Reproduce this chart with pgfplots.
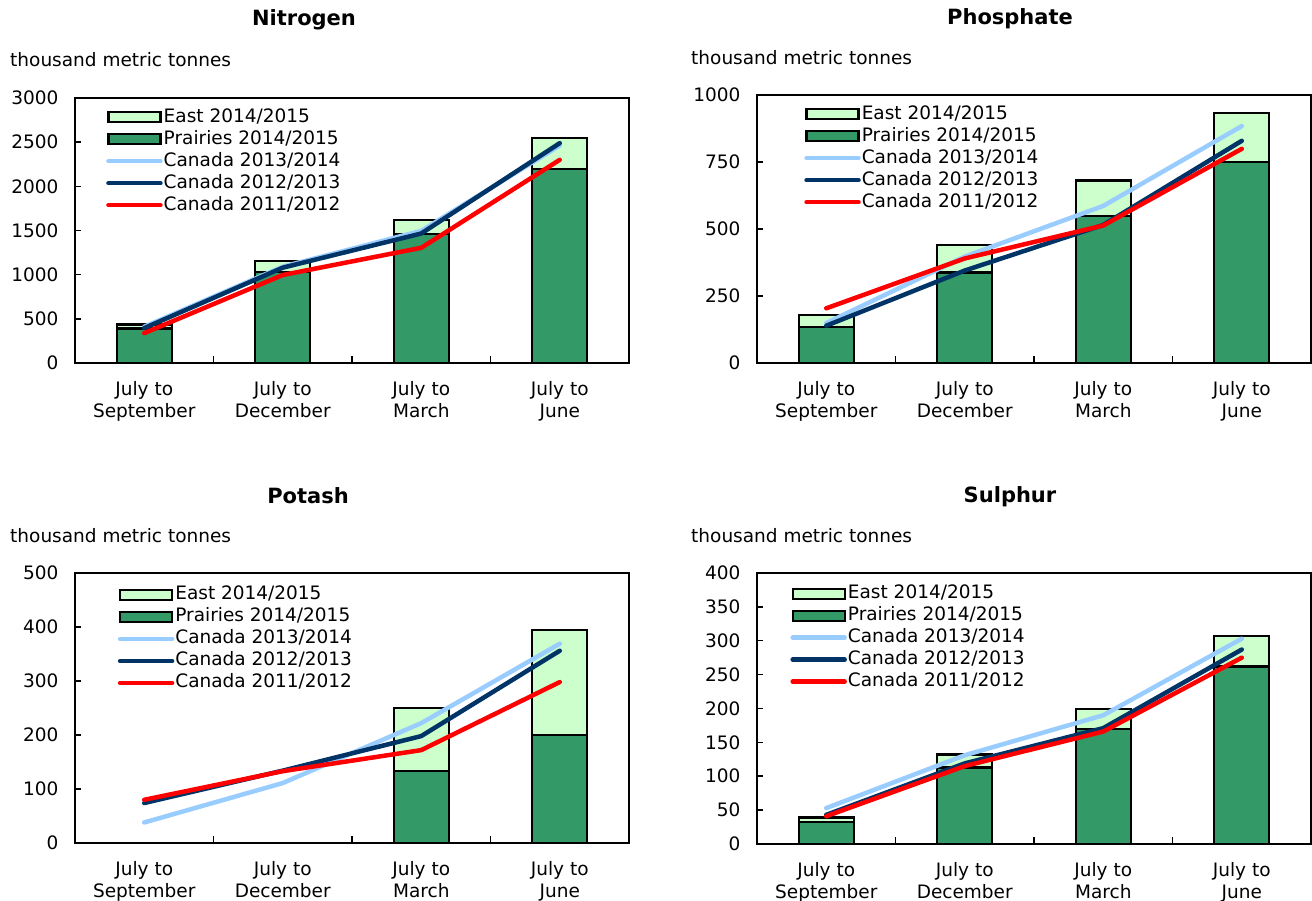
\documentclass[border=0pt]{standalone}
\usepackage{fontspec}
\setmainfont{DejaVu Sans}
\usepackage{pgfplots}
\pgfplotsset{compat=1.18}
\definecolor{bargreen}{RGB}{51,153,102}
\definecolor{lightgreen}{RGB}{204,255,204}
\definecolor{lightblue}{RGB}{153,204,255}
\definecolor{navy}{RGB}{0,51,102}
\definecolor{lred}{RGB}{255,0,0}
\newcommand\fs{\fontsize{18.5}{22}\selectfont}
\newcommand\tfs{\fontsize{21}{25}\selectfont\bfseries}
\pgfplotsset{
  fert/.style={
    scale only axis, width=554pt,
    ybar stacked, reverse stacked plots=false, bar width=55pt,
    xmin=-0.5, xmax=3.5, ymin=0,
    axis line style={line width=2pt, black},
    xtick={0,1,2,3},
    xticklabels={July to\\September, July to\\December, July to\\March, July to\\June},
    x tick label style={align=center, font=\fs, yshift=-15pt},
    y tick label style={font=\fs, xshift=-13pt},
    major x tick style={draw=none},
    minor xtick={0.5,1.5,2.5},
    minor tick length=7pt, major tick length=6pt,
    tick style={line width=1.5pt, black},
    tick align=inside, xtick pos=bottom, ytick pos=left,
    /pgf/number format/assume math mode=true,
    /pgf/number format/1000 sep={},
    scaled y ticks=false,
    legend cell align=left,
    legend style={draw=none, fill=none, inner sep=0pt, font=\fs, anchor=north west,
      nodes={inner sep=1pt, text height=15pt, text depth=5pt}},
  },
  barP/.style={fill=bargreen, draw=black, line width=2.2pt, forget plot},
  barE/.style={fill=lightgreen, draw=black, line width=2.2pt, forget plot},
  lnA/.style={stack plots=false, sharp plot, color=lightblue, line width=4.5pt, line cap=round, line join=round, forget plot},
  lnB/.style={stack plots=false, sharp plot, color=navy, line width=4.5pt, line cap=round, line join=round, forget plot},
  lnC/.style={stack plots=false, sharp plot, color=lred, line width=4.5pt, line cap=round, line join=round, forget plot},
}
\newcommand\legendall{%
  \addlegendimage{legend image code/.code={\draw[fill=lightgreen, draw=black, line width=2.2pt] (0pt,-5pt) rectangle (52pt,5pt);}}
  \addlegendentry{East 2014/2015}
  \addlegendimage{legend image code/.code={\draw[fill=bargreen, draw=black, line width=2.2pt] (0pt,-5pt) rectangle (52pt,5pt);}}
  \addlegendentry{Prairies 2014/2015}
  \addlegendimage{legend image code/.code={\draw[lightblue, line width=4.5pt, line cap=round] (0pt,0pt) -- (52pt,0pt);}}
  \addlegendentry{Canada 2013/2014}
  \addlegendimage{legend image code/.code={\draw[navy, line width=4.5pt, line cap=round] (0pt,0pt) -- (52pt,0pt);}}
  \addlegendentry{Canada 2012/2013}
  \addlegendimage{legend image code/.code={\draw[lred, line width=4.5pt, line cap=round] (0pt,0pt) -- (52pt,0pt);}}
  \addlegendentry{Canada 2011/2012}
}
\begin{document}
\begin{tikzpicture}
\useasboundingbox (0pt,0pt) rectangle (1312pt,901pt);
% titles and unit labels
\node[font=\tfs] at (304pt,881pt) {Nitrogen};
\node[font=\tfs] at (1010pt,882pt) {Phosphate};
\node[font=\tfs] at (308pt,405pt) {Potash};
\node[font=\tfs] at (1010pt,404pt) {Sulphur};
\node[font=\fs, anchor=west, inner sep=0pt] at (10pt,841pt) {thousand metric tonnes};
\node[font=\fs, anchor=west, inner sep=0pt] at (691pt,843pt) {thousand metric tonnes};
\node[font=\fs, anchor=west, inner sep=0pt] at (10pt,365pt) {thousand metric tonnes};
\node[font=\fs, anchor=west, inner sep=0pt] at (691pt,365pt) {thousand metric tonnes};

% Nitrogen
\begin{axis}[fert, at={(75pt,538pt)}, anchor=south west, height=265pt,
  ymax=3000, ytick={0,500,1000,1500,2000,2500,3000},
  legend style={at={(0.056,0.97)}}]
\addplot[barP] coordinates {(0,390) (1,1034) (2,1459) (3,2199)};
\addplot[barE] coordinates {(0,45) (1,120) (2,161) (3,350)};
\addplot[lnA] coordinates {(0,410) (1,1090) (2,1496) (3,2462)};
\addplot[lnB] coordinates {(0,395) (1,1079) (2,1466) (3,2489)};
\addplot[lnC] coordinates {(0,338) (1,996) (2,1304) (3,2300)};
\legendall
\end{axis}

% Phosphate
\begin{axis}[fert, at={(757pt,538pt)}, anchor=south west, height=268pt,
  ymax=1000, ytick={0,250,500,750,1000},
  legend style={at={(0.085,0.97)}}]
\addplot[barP] coordinates {(0,133) (1,338) (2,549) (3,750)};
\addplot[barE] coordinates {(0,46) (1,102) (2,132) (3,184)};
\addplot[lnA] coordinates {(0,149) (1,397) (2,586) (3,884)};
\addplot[lnB] coordinates {(0,139) (1,345) (2,515) (3,829)};
\addplot[lnC] coordinates {(0,204) (1,390) (2,513) (3,799)};
\legendall
\end{axis}

% Potash
\begin{axis}[fert, at={(75pt,58pt)}, anchor=south west, height=270pt,
  ymax=500, ytick={0,100,200,300,400,500},
  legend style={at={(0.077,0.96)}}]
\addplot[barP] coordinates {(0,0) (1,0) (2,133) (3,200)};
\addplot[barE] coordinates {(0,0) (1,0) (2,117) (3,194)};
\addplot[lnA] coordinates {(0,38) (1,111) (2,222) (3,369)};
\addplot[lnB] coordinates {(0,74) (1,134) (2,198) (3,356)};
\addplot[lnC] coordinates {(0,80) (1,133) (2,172) (3,298)};
\legendall
\end{axis}

% Sulphur
\begin{axis}[fert, at={(757pt,57pt)}, anchor=south west, height=271pt,
  ymax=400, ytick={0,50,100,150,200,250,300,350,400},
  legend style={at={(0.06,0.965)}}]
\addplot[barP] coordinates {(0,32) (1,113) (2,170) (3,262)};
\addplot[barE] coordinates {(0,7) (1,19) (2,29) (3,45)};
\addplot[lnA] coordinates {(0,53) (1,131) (2,190) (3,303)};
\addplot[lnB] coordinates {(0,43) (1,119) (2,171) (3,287)};
\addplot[lnC] coordinates {(0,41) (1,115) (2,166) (3,275)};
\legendall
\end{axis}
\end{tikzpicture}
\end{document}
